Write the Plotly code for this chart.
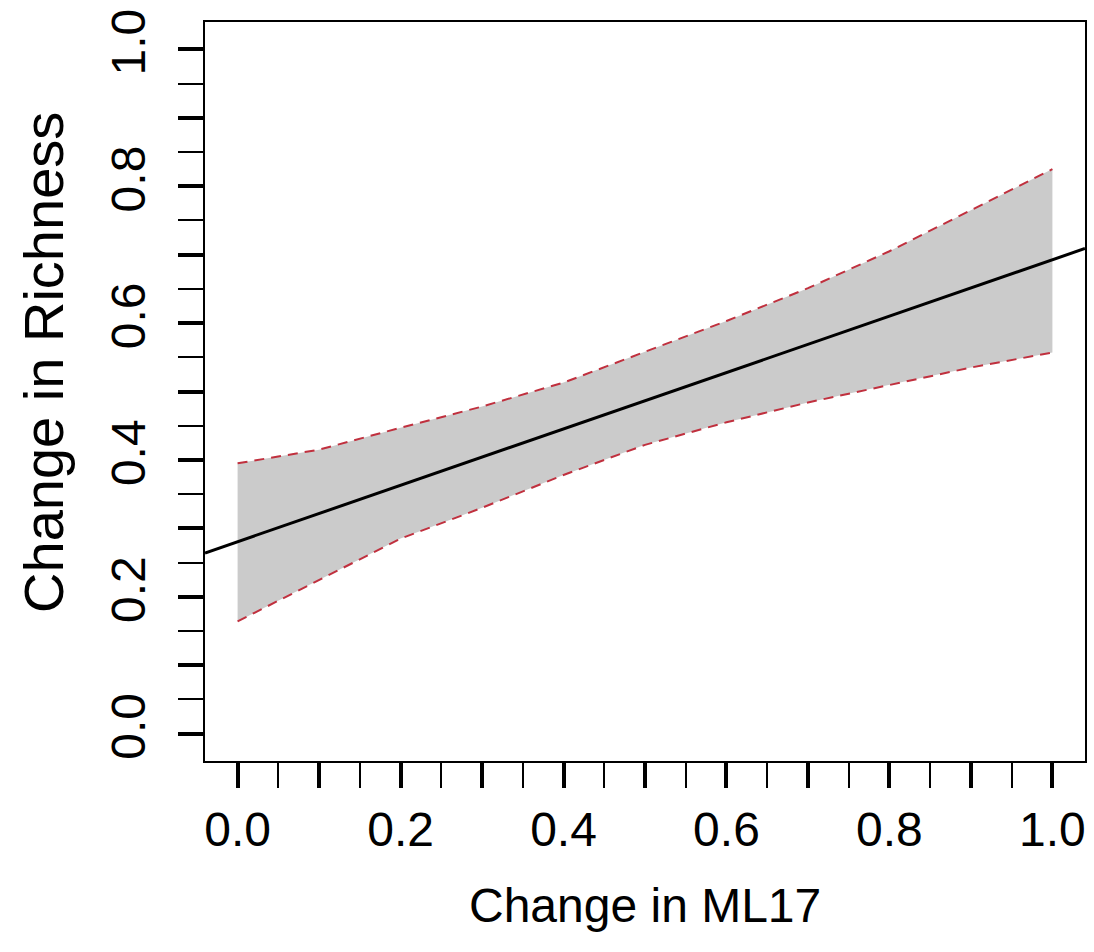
import plotly.graph_objects as go

# Data
band_x = [0.0, 0.1, 0.2, 0.3, 0.4, 0.5, 0.6, 0.7, 0.8, 0.9, 1.0]
band_upper = [0.395, 0.415, 0.447, 0.478, 0.513, 0.558, 0.603, 0.651, 0.705, 0.765, 0.825]
band_lower = [0.164, 0.225, 0.285, 0.330, 0.378, 0.422, 0.455, 0.484, 0.510, 0.535, 0.557]

fit_x = [-0.04, 1.04]
fit_y = [0.264, 0.709]

x_range = [-0.04, 1.04]
y_range = [-0.04, 1.04]

major_ticks = [0.0, 0.1, 0.2, 0.3, 0.4, 0.5, 0.6, 0.7, 0.8, 0.9, 1.0]
major_text = ["0.0", "", "0.2", "", "0.4", "", "0.6", "", "0.8", "", "1.0"]
minor_ticks = [0.05, 0.15, 0.25, 0.35, 0.45, 0.55, 0.65, 0.75, 0.85, 0.95]

x_title = "Change in ML17"
y_title = "Change in Richness"

FONT = "Liberation Sans, Arial, Helvetica, sans-serif"
FS = 48

fig = go.Figure()

fig.add_trace(go.Scatter(
    x=band_x + band_x[::-1],
    y=band_upper + band_lower[::-1],
    fill="toself", fillcolor="#cbcbcb",
    line=dict(width=0), mode="lines", hoverinfo="skip", showlegend=False,
))
fig.add_trace(go.Scatter(
    x=band_x, y=band_upper, mode="lines",
    line=dict(color="#c0303e", width=2, dash="10px,7px"), showlegend=False,
))
fig.add_trace(go.Scatter(
    x=band_x, y=band_lower, mode="lines",
    line=dict(color="#c0303e", width=2, dash="10px,7px"), showlegend=False,
))
fig.add_trace(go.Scatter(
    x=fit_x, y=fit_y, mode="lines",
    line=dict(color="black", width=3), showlegend=False,
))

axis_common = dict(
    showgrid=False, zeroline=False,
    showline=True, linecolor="black", linewidth=2, mirror=True,
    ticks="outside", ticklen=25, tickwidth=4, tickcolor="black",
    tickmode="array", tickvals=major_ticks, ticktext=major_text,
    tickfont=dict(family=FONT, size=FS, color="black"),
    minor=dict(tickmode="array", tickvals=minor_ticks, ticks="outside",
               ticklen=25, tickwidth=2, tickcolor="black", showgrid=False),
)

fig.update_xaxes(range=x_range, ticklabelstandoff=0, **axis_common)
fig.update_yaxes(range=y_range, tickangle=-90, ticklabelstandoff=14, **axis_common)

fig.add_annotation(
    text=x_title, xref="paper", yref="paper", x=0.5, y=-0.195,
    xanchor="center", yanchor="middle", showarrow=False,
    font=dict(family=FONT, size=FS, color="black"),
)
fig.add_annotation(
    text=y_title, xref="paper", yref="paper", x=-0.183, y=0.54,
    xanchor="center", yanchor="middle", showarrow=False, textangle=-90,
    font=dict(family=FONT, size=56, color="black"),
)

fig.update_layout(
    width=1094, height=952,
    margin=dict(l=205, r=9, t=22, b=191, autoexpand=False),
    plot_bgcolor="white", paper_bgcolor="white",
)

fig.write_html("out.html")
